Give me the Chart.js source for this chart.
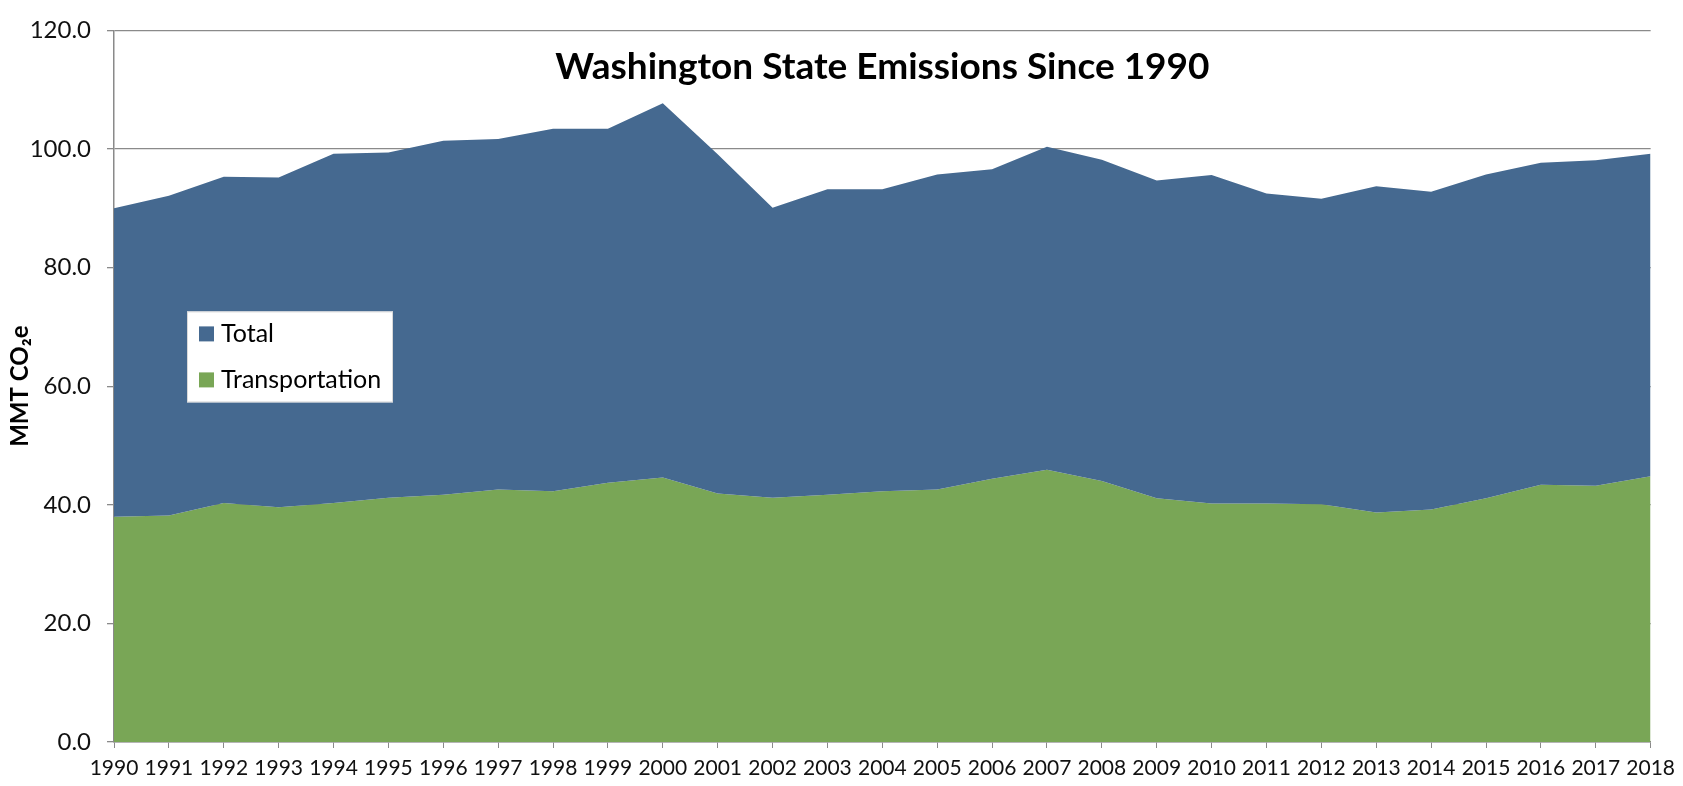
<!DOCTYPE html>
<html>
<head>
<meta charset="utf-8">
<title>Washington State Emissions Since 1990</title>
<script src="https://cdn.jsdelivr.net/npm/chart.js@4.4.1/dist/chart.umd.min.js"></script>
<style>
  html, body { margin: 0; padding: 0; background: #fff; }
  #wrap { width: 1683px; height: 786px; }
</style>
</head>
<body>
<div id="wrap"><canvas id="myChart" width="1683" height="786"></canvas></div>
<script>
// values (MMT CO2e)
const years = ["1990", "1991", "1992", "1993", "1994", "1995", "1996", "1997", "1998", "1999",
  "2000", "2001", "2002", "2003", "2004", "2005", "2006", "2007", "2008", "2009",
  "2010", "2011", "2012", "2013", "2014", "2015", "2016", "2017", "2018"];

const total = [90.0, 92.1, 95.3, 95.2, 99.2, 99.4, 101.4, 101.7, 103.4, 103.4,
  107.7, 99.1, 90.1, 93.2, 93.2, 95.7, 96.6, 100.4, 98.2, 94.7,
  95.6, 92.5, 91.6, 93.7, 92.8, 95.7, 97.7, 98.1, 99.2];

const transportation = [38.0, 38.2, 40.3, 39.6, 40.3, 41.2, 41.7, 42.6, 42.3, 43.7,
  44.6, 41.9, 41.2, 41.7, 42.3, 42.6, 44.4, 45.9, 44.0, 41.1,
  40.2, 40.2, 40.1, 38.7, 39.2, 41.1, 43.4, 43.2, 44.8];

const yMin = 0;
const yMax = 120;
const yStep = 20;

const chartTitle = "Washington State Emissions Since 1990";
const yTitle = "MMT CO\u2082e";

const BLUE = "rgb(69, 105, 144)";
const GREEN = "rgb(121, 166, 86)";
const GRID = "#8a8a8a";
const FONT = "Lato, 'Open Sans', sans-serif";

// title + legend sit inside the plot area, so draw them by hand
const insidePlot = {
  id: "insidePlot",
  afterDraw(chart) {
    const ctx = chart.ctx;
    const area = chart.chartArea;
    ctx.save();

    ctx.fillStyle = "#000";
    ctx.font = "bold 37px " + FONT;
    ctx.textAlign = "center";
    ctx.textBaseline = "middle";
    ctx.fillText(chartTitle, (area.left + area.right) / 2, area.top + 37);

    // legend box
    const bx = area.left + 73;
    const by = area.top + 281;
    const bw = 206;
    const bh = 91;
    ctx.fillStyle = "#fff";
    ctx.fillRect(bx, by, bw, bh);
    ctx.strokeStyle = "#d9d9d9";
    ctx.lineWidth = 1;
    ctx.strokeRect(bx + 0.5, by + 0.5, bw - 1, bh - 1);

    ctx.font = "25px " + FONT;
    ctx.textAlign = "left";
    chart.data.datasets.forEach((ds, i) => {
      const cy = by + 22 + i * 46;
      ctx.fillStyle = ds.backgroundColor;
      ctx.fillRect(bx + 12, cy - 7, 15, 15);
      ctx.fillStyle = "#000";
      ctx.fillText(ds.label, bx + 34, cy + 1);
    });

    ctx.restore();
  }
};

const ctx = document.getElementById("myChart").getContext("2d");
const chart = new Chart(ctx, {
  type: "line",
  data: {
    labels: years,
    datasets: [
      {
        label: "Total",
        data: total,
        backgroundColor: BLUE,
        borderColor: BLUE,
        borderWidth: 0,
        pointRadius: 0,
        fill: "+1",
        tension: 0,
      },
      {
        label: "Transportation",
        data: transportation,
        backgroundColor: GREEN,
        borderColor: GREEN,
        borderWidth: 0,
        pointRadius: 0,
        fill: "origin",
        tension: 0,
      },
    ],
  },
  options: {
    responsive: false,
    animation: false,
    devicePixelRatio: 1,
    layout: { padding: { top: 26, right: 29, bottom: 0, left: 0 } },
    plugins: {
      legend: { display: false },
      tooltip: { enabled: false },
    },
    scales: {
      x: {
        offset: false,
        grid: {
          drawOnChartArea: false,
          drawTicks: true,
          tickLength: 6,
          color: GRID,
        },
        border: { display: true, color: GRID, width: 1.5 },
        ticks: {
          autoSkip: false,
          maxRotation: 0,
          minRotation: 0,
          padding: 8,
          color: "#111",
          font: { family: FONT, size: 21 },
        },
        afterFit(scale) {
          scale.height = 44;
        },
      },
      y: {
        min: yMin,
        max: yMax,
        grid: {
          color: GRID,
          lineWidth: 1.3,
          drawTicks: true,
          tickLength: 7,
        },
        border: { display: true, color: GRID, width: 1.5 },
        ticks: {
          stepSize: yStep,
          padding: 16,
          color: "#111",
          font: { family: FONT, size: 24 },
          callback: (v) => Number(v).toFixed(1),
        },
        title: {
          display: true,
          text: yTitle,
          color: "#000",
          font: { family: FONT, size: 24, weight: "bold" },
          padding: { top: 6, bottom: 0 },
        },
        afterFit(scale) {
          scale.width = 114;
        },
      },
    },
  },
  plugins: [insidePlot],
});
</script>
</body>
</html>
